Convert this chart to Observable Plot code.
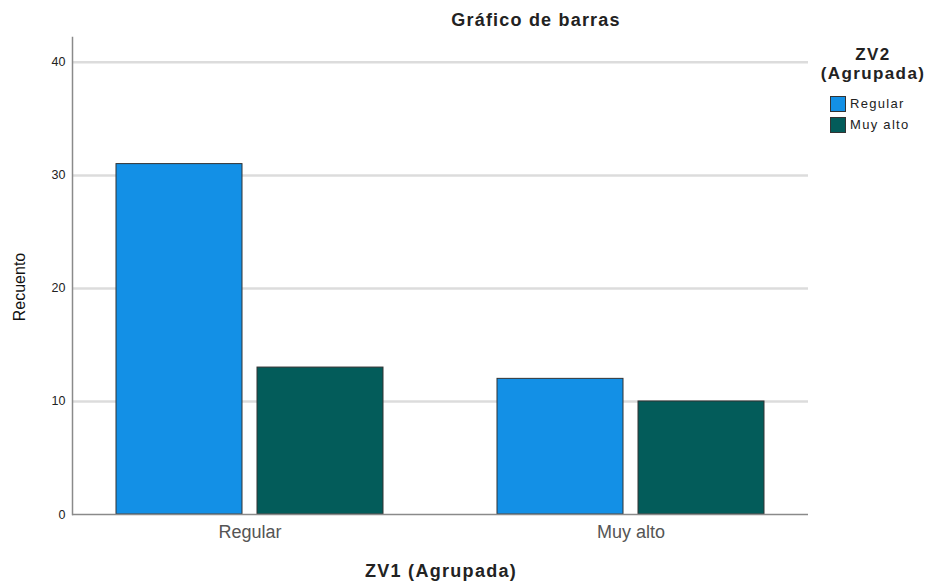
<!DOCTYPE html>
<html>
<head>
<meta charset="utf-8">
<script src="https://cdn.jsdelivr.net/npm/d3@7"></script>
<script src="https://cdn.jsdelivr.net/npm/@observablehq/plot@0.6"></script>
<style>
  html, body { margin: 0; padding: 0; background: #fff; }
  #wrap { position: relative; width: 928px; height: 583px; font-family: "Liberation Sans", Arial, sans-serif; }
  #wrap svg { position: absolute; left: 0; top: 0; }
  .abs { position: absolute; white-space: nowrap; }
  #title { left: 536px; top: 20px; transform: translate(-50%, -50%); font-weight: bold; font-size: 18px; letter-spacing: 1.2px; color: #222; }
  #xlabel { left: 441px; top: 571px; transform: translate(-50%, -50%); font-weight: bold; font-size: 18px; letter-spacing: 1.3px; color: #222; }
  #ylabel { left: 20px; top: 287px; transform: translate(-50%, -50%) rotate(-90deg); font-size: 16px; color: #111; }
  #legend { left: 813px; top: 45px; width: 120px; }
  #legend .lt { text-align: center; font-weight: bold; font-size: 17px; letter-spacing: 1.4px; line-height: 19px; color: #222; }
  #legend .items { margin-top: 10px; margin-left: 17px; }
  #legend .it { display: flex; align-items: center; height: 21px; font-size: 13px; color: #222; letter-spacing: 1.3px; }
  #legend .sw { width: 16px; height: 16px; box-sizing: border-box; border: 1px solid #333; margin-right: 4px; }
</style>
</head>
<body>
<div id="wrap"></div>
<script>
const categories = ["Regular", "Muy alto"];          // ZV1 (Agrupada)
const series = ["Regular", "Muy alto"];              // ZV2 (Agrupada)
const regularValues = [31, 12];                      // ZV2 = Regular
const muyAltoValues = [13, 10];                      // ZV2 = Muy alto
const yTicks = [0, 10, 20, 30, 40];
const gridTicks = [10, 20, 30, 40];
const colors = ["#1390e6", "#035c5a"];

const data = [];
categories.forEach((c, i) => {
  data.push({zv1: c, zv2: series[0], n: regularValues[i]});
  data.push({zv1: c, zv2: series[1], n: muyAltoValues[i]});
});

const chart = Plot.plot({
  width: 928,
  height: 583,
  marginLeft: 72,
  marginRight: 120,
  marginTop: 37,
  marginBottom: 69,
  style: {fontFamily: "Liberation Sans, Arial, sans-serif", background: "transparent"},
  x: {type: "band", domain: categories, paddingInner: 0.298, paddingOuter: 0.113, label: null},
  y: {domain: [0, 42.2], label: null},
  color: {domain: series, range: colors},
  marks: [
    Plot.ruleY(gridTicks, {stroke: "#dcdcdc", strokeWidth: 2.5}),
    Plot.barY(data.filter(d => d.zv2 === series[0]), {x: "zv1", y: "n", fill: "zv2", stroke: "#333", strokeWidth: 1, insetRight: 141}),
    Plot.barY(data.filter(d => d.zv2 === series[1]), {x: "zv1", y: "n", fill: "zv2", stroke: "#333", strokeWidth: 1, insetLeft: 141}),
    Plot.ruleY([0], {stroke: "#8a8a8a", strokeWidth: 1.5}),
    Plot.frame({anchor: "left", stroke: "#8a8a8a", strokeWidth: 1.5}),
    Plot.axisY(yTicks, {tickSize: 0, tickPadding: 7, fontSize: 12.5, fill: "#222", label: null}),
    Plot.axisX({tickSize: 0, tickPadding: 11, fontSize: 18, fill: "#555", label: null, style: {letterSpacing: "0.9px"}})
  ]
});

const wrap = document.getElementById("wrap");
wrap.appendChild(chart);

function addDiv(id, text) {
  const d = document.createElement("div");
  d.id = id; d.className = "abs"; d.textContent = text;
  wrap.appendChild(d);
  return d;
}
addDiv("title", "Gráfico de barras");
addDiv("xlabel", "ZV1 (Agrupada)");
addDiv("ylabel", "Recuento");

const leg = document.createElement("div");
leg.id = "legend"; leg.className = "abs";
leg.innerHTML = '<div class="lt">ZV2<br>(Agrupada)</div><div class="items"></div>';
const items = leg.querySelector(".items");
series.forEach((s, i) => {
  const it = document.createElement("div");
  it.className = "it";
  it.innerHTML = `<span class="sw" style="background:${colors[i]}"></span><span>${s}</span>`;
  items.appendChild(it);
});
wrap.appendChild(leg);
</script>
</body>
</html>
